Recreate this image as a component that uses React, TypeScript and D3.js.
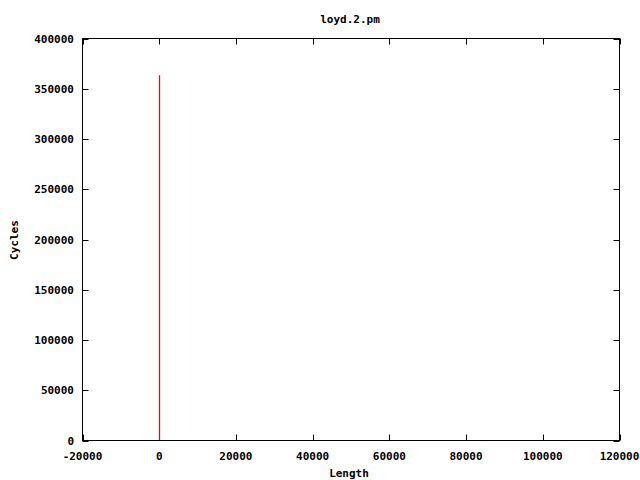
import React from "react";
import * as d3 from "d3";

const title = "loyd.2.pm";
const xLabel = "Length";
const yLabel = "Cycles";
const lengths = [0];
const cycles = [363500];
const xTicks = [-20000, 0, 20000, 40000, 60000, 80000, 100000, 120000];
const yTicks = [0, 50000, 100000, 150000, 200000, 250000, 300000, 350000, 400000];

export default function App() {
  const W = 640, H = 480;
  const L = 82.5, R = 619.5, T = 38.5, B = 440.5;
  const x = d3.scaleLinear().domain([-20000, 120000]).range([L, R]);
  const y = d3.scaleLinear().domain([0, 400000]).range([B, T]);
  const font = "'DejaVu Sans Mono', monospace";
  const tl = 6;
  return (
    <svg width={W} height={H} style={{ position: "absolute", left: 0, top: 0, background: "#fff" }}>
      <g fontFamily={font} fontWeight="bold" fontSize={11} fill="#000">
        <text x={350} y={23} textAnchor="middle">{title}</text>
        <text x={349} y={477} textAnchor="middle">{xLabel}</text>
        <text transform={`translate(18,240) rotate(-90)`} textAnchor="middle">{yLabel}</text>
        {xTicks.map((t) => (
          <g key={"x" + t}>
            <line x1={Math.round(x(t)) + 0.5} x2={Math.round(x(t)) + 0.5} y1={B} y2={B - tl} stroke="#000" />
            <line x1={Math.round(x(t)) + 0.5} x2={Math.round(x(t)) + 0.5} y1={T} y2={T + tl} stroke="#000" />
            <text x={x(t)} y={460} textAnchor="middle">{t}</text>
          </g>
        ))}
        {yTicks.map((t) => (
          <g key={"y" + t}>
            <line x1={L} x2={L + tl} y1={Math.round(y(t)) + 0.5} y2={Math.round(y(t)) + 0.5} stroke="#000" />
            <line x1={R} x2={R - tl} y1={Math.round(y(t)) + 0.5} y2={Math.round(y(t)) + 0.5} stroke="#000" />
            <text x={74} y={y(t) + 4} textAnchor="end">{t}</text>
          </g>
        ))}
      </g>
      <rect x={L} y={T} width={R - L} height={B - T} fill="none" stroke="#000" strokeWidth={1} />
      {lengths.map((l, i) => (
        <line key={i} x1={Math.round(x(l)) + 0.5} x2={Math.round(x(l)) + 0.5} y1={y(0) - 0.5} y2={y(cycles[i])} stroke="#d0102a" strokeWidth={1.3} />
      ))}
    </svg>
  );
}
